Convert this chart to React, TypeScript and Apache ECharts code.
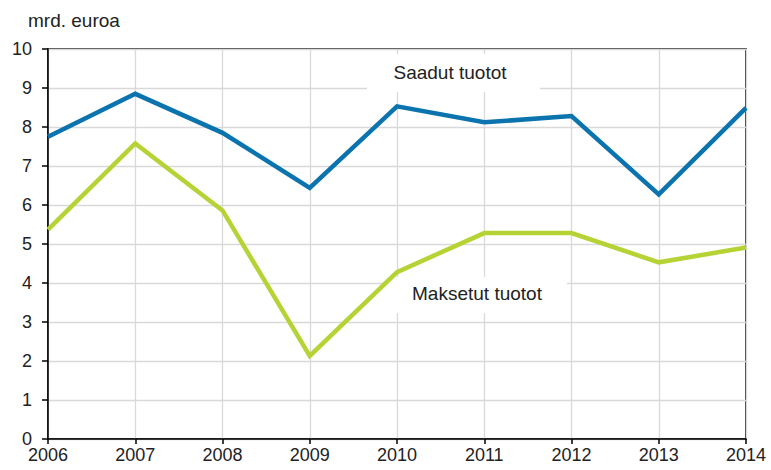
import React, { useEffect, useRef } from "react";
import * as echarts from "echarts";

const years = ["2006", "2007", "2008", "2009", "2010", "2011", "2012", "2013", "2014"];
const saadutTuotot = [7.75, 8.85, 7.85, 6.44, 8.53, 8.12, 8.28, 6.27, 8.49];
const maksetutTuotot = [5.37, 7.58, 5.86, 2.13, 4.28, 5.28, 5.28, 4.53, 4.91];
const yTicks = [0, 1, 2, 3, 4, 5, 6, 7, 8, 9, 10];
const unitLabel = "mrd. euroa";
const seriesNames = ["Saadut tuotot", "Maksetut tuotot"];

const FONT = "'Liberation Sans', Arial, sans-serif";

export default function App() {
  const ref = useRef<HTMLDivElement>(null);
  useEffect(() => {
    if (!ref.current) return;
    const chart = echarts.init(ref.current, null, { renderer: "svg" });
    chart.setOption({
      animation: false,
      backgroundColor: "#ffffff",
      grid: {
        left: 48,
        right: 25,
        top: 49,
        bottom: 31,
        show: true,
        borderColor: "#000000",
        borderWidth: 1.5,
        backgroundColor: "transparent",
      },
      xAxis: {
        type: "category",
        data: years,
        boundaryGap: false,
        axisLine: { lineStyle: { color: "#000", width: 1.5 } },
        axisTick: { show: true, length: 5, lineStyle: { color: "#000", width: 1.5 } },
        axisLabel: { color: "#222", fontSize: 18, fontFamily: FONT, margin: 7 },
        splitLine: { show: true, lineStyle: { color: "#d9d9d9", width: 1.3 } },
      },
      yAxis: {
        type: "value",
        min: yTicks[0],
        max: yTicks[yTicks.length - 1],
        interval: 1,
        axisLine: { show: true, lineStyle: { color: "#000", width: 1.5 } },
        axisTick: { show: true, length: 6, lineStyle: { color: "#000", width: 1.5 } },
        axisLabel: { color: "#222", fontSize: 18, fontFamily: FONT, margin: 16 },
        splitLine: { show: true, lineStyle: { color: "#d9d9d9", width: 1.3 } },
      },
      series: [
        {
          name: seriesNames[0],
          type: "line",
          data: saadutTuotot,
          symbol: "none",
          z: 3,
          lineStyle: { color: "#0b74ae", width: 4.5, join: "miter" },
        },
        {
          name: seriesNames[1],
          type: "line",
          data: maksetutTuotot,
          symbol: "none",
          z: 3,
          lineStyle: { color: "#b5d334", width: 4.5, join: "miter" },
        },
      ],
      graphic: [
        {
          type: "text",
          left: 28,
          top: 11,
          z: 5,
          style: { text: unitLabel, fill: "#222", font: `19px ${FONT}` },
        },
        {
          type: "rect",
          shape: { x: 367, y: 54, width: 173, height: 38 },
          z: 1,
          style: { fill: "#ffffff" },
        },
        {
          type: "text",
          x: 450,
          y: 72,
          z: 5,
          style: {
            text: seriesNames[0],
            fill: "#222",
            font: `19px ${FONT}`,
            align: "center",
            verticalAlign: "middle",
          },
        },
        {
          type: "rect",
          shape: { x: 387, y: 277, width: 180, height: 36 },
          z: 1,
          style: { fill: "#ffffff" },
        },
        {
          type: "text",
          x: 477,
          y: 293,
          z: 5,
          style: {
            text: seriesNames[1],
            fill: "#222",
            font: `19px ${FONT}`,
            align: "center",
            verticalAlign: "middle",
          },
        },
      ],
    });
    return () => chart.dispose();
  }, []);
  return <div ref={ref} style={{ width: 771, height: 470, position: "absolute", left: 0, top: 0 }} />;
}
